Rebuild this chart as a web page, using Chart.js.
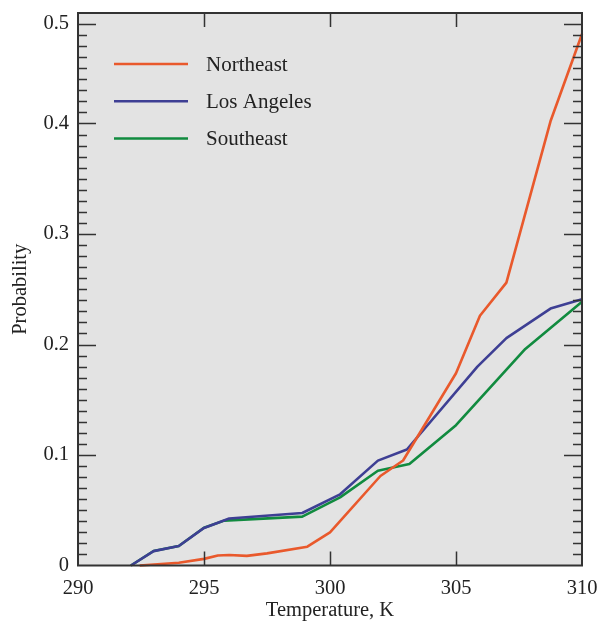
<!DOCTYPE html>
<html>
<head>
<meta charset="utf-8">
<script src="https://cdn.jsdelivr.net/npm/chart.js@4/dist/chart.umd.min.js"></script>
<style>
  html, body { margin: 0; padding: 0; background: #ffffff; }
  #wrap { width: 598px; height: 626px; }
</style>
</head>
<body>
<div id="wrap"><canvas id="c" width="598" height="626"></canvas></div>
<script>
// ---- data ----
const seriesNames = ["Northeast", "Los Angeles", "Southeast"];
const seriesColors = ["#E9592C", "#3E3F94", "#118B3F"];

const northeastTemps = [292.45, 294.0, 295.0, 295.55, 296.0, 296.7, 297.5, 299.1, 300.0, 302.0, 302.9, 305.0, 305.95, 307.0, 308.75, 310.0];
const northeastProb  = [0.0, 0.0025, 0.006, 0.009, 0.0095, 0.0087, 0.011, 0.017, 0.030, 0.081, 0.095, 0.174, 0.226, 0.256, 0.402, 0.481];

const losAngelesTemps = [292.1, 293.0, 294.0, 295.0, 296.0, 298.9, 300.4, 301.9, 303.05, 305.85, 307.0, 308.75, 310.0];
const losAngelesProb  = [0.0, 0.013, 0.0176, 0.034, 0.0425, 0.0475, 0.0644, 0.0949, 0.105, 0.180, 0.2058, 0.2325, 0.241];

const southeastTemps = [292.1, 293.0, 294.0, 295.0, 295.8, 298.9, 300.4, 301.9, 303.15, 305.0, 307.75, 310.0];
const southeastProb  = [0.0, 0.0131, 0.0176, 0.0342, 0.0406, 0.0442, 0.0617, 0.0858, 0.0918, 0.127, 0.196, 0.2387];

const xTicks = [290, 295, 300, 305, 310];
const yTickValues = [0, 0.1, 0.2, 0.3, 0.4, 0.49];
const yTickLabels = ["0", "0.1", "0.2", "0.3", "0.4", "0.5"];
const yMinorStep = 0.01;

const xTitle = "Temperature, K";
const yTitle = "Probability";

function pts(xs, ys) { return xs.map((x, i) => ({ x: x, y: ys[i] })); }

const FONT = "'Liberation Serif', 'Times New Roman', serif";
const AXIS = "#333333";

const framePlugin = {
  id: 'frame',
  beforeDatasetsDraw(chart) {
    const { ctx, chartArea: a } = chart;
    ctx.save();
    ctx.fillStyle = "#E3E3E3";
    ctx.fillRect(a.left, a.top, a.right - a.left, a.bottom - a.top);
    ctx.restore();
  },
  afterDatasetsDraw(chart) {
    const { ctx, chartArea: a, scales } = chart;
    const xs = scales.x, ys = scales.y;
    ctx.save();
    ctx.strokeStyle = AXIS;
    ctx.lineWidth = 1.5;
    ctx.beginPath();
    for (let k = 1; k <= 49; k++) {
      const v = k * yMinorStep;
      const py = Math.round(ys.getPixelForValue(v)) + 0.5;
      const major = yTickValues.some(t => Math.abs(t - v) < 1e-9);
      const len = major ? 18 : 9;
      ctx.moveTo(a.left, py); ctx.lineTo(a.left + len, py);
      ctx.moveTo(a.right, py); ctx.lineTo(a.right - len, py);
    }
    xTicks.forEach(t => {
      if (t === xTicks[0] || t === xTicks[xTicks.length - 1]) return;
      const px = Math.round(xs.getPixelForValue(t)) + 0.5;
      ctx.moveTo(px, a.bottom); ctx.lineTo(px, a.bottom - 14);
      ctx.moveTo(px, a.top); ctx.lineTo(px, a.top + 14);
    });
    ctx.stroke();
    ctx.lineWidth = 2;
    ctx.strokeRect(a.left, a.top, a.right - a.left, a.bottom - a.top);
    ctx.restore();
  },
  afterDraw(chart) {
    const { ctx } = chart;
    ctx.save();
    ctx.font = "21px " + FONT;
    ctx.textBaseline = "middle";
    ctx.textAlign = "left";
    chart.data.datasets.forEach((ds, i) => {
      const y = 64 + i * 37.2;
      ctx.strokeStyle = ds.borderColor;
      ctx.lineWidth = 2.5;
      ctx.beginPath();
      ctx.moveTo(114, y); ctx.lineTo(188, y);
      ctx.stroke();
      ctx.fillStyle = "#222222";
      ctx.fillText(ds.label, 206, y + 1);
    });
    ctx.restore();
  }
};

new Chart(document.getElementById('c'), {
  type: 'line',
  data: {
    datasets: [
      { label: seriesNames[0], data: pts(northeastTemps, northeastProb), borderColor: seriesColors[0] },
      { label: seriesNames[1], data: pts(losAngelesTemps, losAngelesProb), borderColor: seriesColors[1] },
      { label: seriesNames[2], data: pts(southeastTemps, southeastProb), borderColor: seriesColors[2] }
    ]
  },
  options: {
    responsive: false,
    animation: false,
    clip: false,
    elements: {
      point: { radius: 0, hoverRadius: 0 },
      line: { borderWidth: 2.6, tension: 0, fill: false, borderJoinStyle: 'round' }
    },
    layout: { padding: { top: 13, right: 16, left: 0, bottom: 0 } },
    plugins: { legend: { display: false }, tooltip: { enabled: false } },
    scales: {
      x: {
        type: 'linear',
        min: 290, max: 310,
        afterBuildTicks(scale) { scale.ticks = xTicks.map(v => ({ value: v })); },
        afterFit(scale) { scale.height = 60.5; scale.paddingLeft = 0; scale.paddingRight = 0; },
        grid: { display: false, drawTicks: false },
        border: { display: false },
        ticks: {
          padding: 11,
          color: "#222222",
          font: { family: FONT, size: 20.5 },
          maxRotation: 0,
          callback: (v) => String(v)
        },
        title: {
          display: true, text: xTitle, color: "#222222",
          font: { family: FONT, size: 20.5 },
          padding: { top: 0, bottom: 3 }
        }
      },
      y: {
        type: 'linear',
        min: 0, max: 0.5,
        afterBuildTicks(scale) { scale.ticks = yTickValues.map(v => ({ value: v })); },
        afterFit(scale) { scale.width = 78; scale.paddingTop = 0; scale.paddingBottom = 0; },
        grid: { display: false, drawTicks: false },
        border: { display: false },
        ticks: {
          padding: 9,
          color: "#222222",
          font: { family: FONT, size: 20.5 },
          callback: function (v) {
            const i = yTickValues.findIndex(t => Math.abs(t - v) < 1e-9);
            return i >= 0 ? yTickLabels[i] : "";
          }
        },
        title: {
          display: true, text: yTitle, color: "#222222",
          font: { family: FONT, size: 20.5 },
          padding: { top: 8, bottom: 0 }
        }
      }
    }
  },
  plugins: [framePlugin]
});
</script>
</body>
</html>
